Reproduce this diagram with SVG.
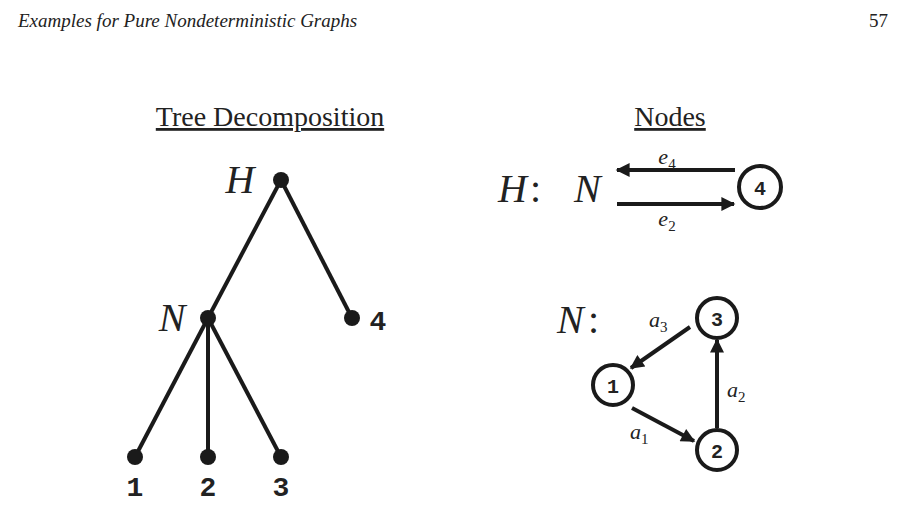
<svg xmlns="http://www.w3.org/2000/svg" width="906" height="505" viewBox="0 0 906 505">
<style>
.serif{font-family:"Liberation Serif",serif;fill:#222}
.it{font-style:italic}
.sub{font-style:normal}
.mono{font-family:"Liberation Mono",monospace;font-weight:bold;fill:#222}
.e{stroke:#1a1a1a;stroke-width:4;fill:none}
.c{stroke:#1a1a1a;stroke-width:4;fill:#fff}
.d{fill:#1a1a1a}
</style>
<defs><marker id="ah" viewBox="0 0 10 10" refX="9" refY="5" markerWidth="5.5" markerHeight="3.5" orient="auto" markerUnits="strokeWidth"><path d="M0,0 L10,5 L0,10 z" fill="#1a1a1a"/></marker></defs>
<text x="18" y="27" class="serif it" font-size="19">Examples for Pure Nondeterministic Graphs</text>
<text x="888" y="27" class="serif" font-size="19" text-anchor="end">57</text>
<text x="270" y="126" class="serif" font-size="28" text-anchor="middle" text-decoration="underline">Tree Decomposition</text>
<text x="670" y="126" class="serif" font-size="28" text-anchor="middle" text-decoration="underline">Nodes</text>
<g id="connectors">
<line class="e" x1="281" y1="180" x2="208" y2="318"/>
<line class="e" x1="281" y1="180" x2="352" y2="318"/>
<line class="e" x1="208" y1="318" x2="135" y2="457"/>
<line class="e" x1="208" y1="318" x2="208" y2="457"/>
<line class="e" x1="208" y1="318" x2="281" y2="457"/>
<line class="e" x1="735" y1="170" x2="617" y2="170" marker-end="url(#ah)"/>
<line class="e" x1="617" y1="204" x2="734" y2="204" marker-end="url(#ah)"/>
<line class="e" x1="690" y1="327" x2="631" y2="368" marker-end="url(#ah)"/>
<line class="e" x1="717" y1="428" x2="717" y2="340" marker-end="url(#ah)"/>
<line class="e" x1="632" y1="408" x2="694" y2="441" marker-end="url(#ah)"/>
</g>
<g id="treeH"><circle class="d" cx="281" cy="180" r="8"/><text x="240" y="193" class="serif it" font-size="40" text-anchor="middle">H</text></g>
<g id="treeN"><circle class="d" cx="208" cy="318" r="8"/><text x="172" y="331" class="serif it" font-size="40" text-anchor="middle">N</text></g>
<g id="tree4"><circle class="d" cx="352" cy="318" r="8"/><text x="378" y="330" class="mono" font-size="28" text-anchor="middle">4</text></g>
<g id="tree1"><circle class="d" cx="135" cy="457" r="8"/><text x="135" y="496" class="mono" font-size="28" text-anchor="middle">1</text></g>
<g id="tree2"><circle class="d" cx="208" cy="457" r="8"/><text x="208" y="496" class="mono" font-size="28" text-anchor="middle">2</text></g>
<g id="tree3"><circle class="d" cx="281" cy="457" r="8"/><text x="281" y="496" class="mono" font-size="28" text-anchor="middle">3</text></g>
<g id="labelH"><text x="498" y="202" class="serif it" font-size="40">H</text><text x="530" y="202" class="serif" font-size="40">:</text><text x="574" y="202" class="serif it" font-size="40">N</text></g>
<g id="node4"><circle class="c" cx="760" cy="187" r="21"/><text x="760" y="195" class="mono" font-size="20" text-anchor="middle">4</text></g>
<text x="667" y="164" class="serif it" font-size="22" text-anchor="middle">e<tspan class="sub" font-size="15" dy="5">4</tspan></text>
<text x="667" y="226" class="serif it" font-size="22" text-anchor="middle">e<tspan class="sub" font-size="15" dy="5">2</tspan></text>
<g id="labelN"><text x="557" y="333" class="serif it" font-size="40">N</text><text x="588" y="333" class="serif" font-size="40">:</text></g>
<g id="node3"><circle class="c" cx="717" cy="318" r="20"/><text x="717" y="326" class="mono" font-size="20" text-anchor="middle">3</text></g>
<g id="node1"><circle class="c" cx="613" cy="385" r="20"/><text x="613" y="393" class="mono" font-size="20" text-anchor="middle">1</text></g>
<g id="node2"><circle class="c" cx="717" cy="450" r="20"/><text x="717" y="458" class="mono" font-size="20" text-anchor="middle">2</text></g>
<text x="649" y="327" class="serif it" font-size="22">a<tspan class="sub" font-size="15" dy="5">3</tspan></text>
<text x="727" y="397" class="serif it" font-size="22">a<tspan class="sub" font-size="15" dy="5">2</tspan></text>
<text x="630" y="439" class="serif it" font-size="22">a<tspan class="sub" font-size="15" dy="5">1</tspan></text>
</svg>
